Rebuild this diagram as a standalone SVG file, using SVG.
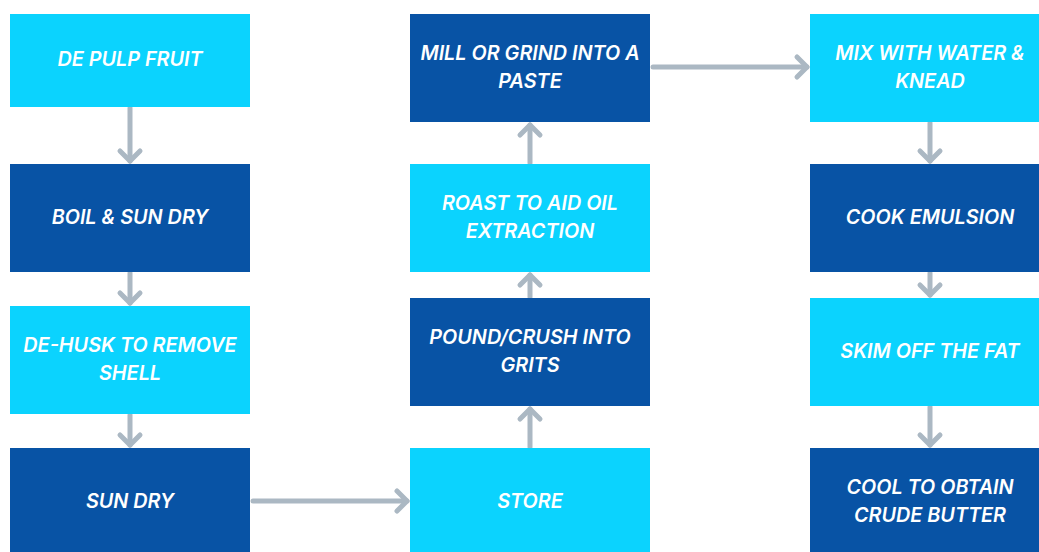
<svg xmlns="http://www.w3.org/2000/svg" width="1039" height="552" viewBox="0 0 1039 552">
<style>
.light{fill:#0bd3fe}
.dark{fill:#0853a5}
.t{fill:#ffffff;font-family:Inter,"Open Sans","Liberation Sans",sans-serif;font-style:italic;font-weight:600;font-size:19.8px;text-anchor:middle}
.c{stroke:#abb8c3;stroke-width:5;stroke-linecap:round;fill:none}
</style>
<defs>
<marker id="ah" markerUnits="userSpaceOnUse" markerWidth="30" markerHeight="30" viewBox="-15 -15 30 30" refX="0" refY="0" orient="auto">
<path d="M-10,-10 L0,0 L-10,10" stroke="#abb8c3" stroke-width="5" stroke-linecap="round" stroke-linejoin="round" fill="none"/>
</marker>
</defs>
<rect width="1039" height="552" fill="#ffffff"/>
<g id="connectors">
<line class="c" x1="130" y1="108" x2="130" y2="161" marker-end="url(#ah)"/>
<line class="c" x1="130" y1="273" x2="130" y2="303" marker-end="url(#ah)"/>
<line class="c" x1="130" y1="415" x2="130" y2="445" marker-end="url(#ah)"/>
<line class="c" x1="253" y1="501" x2="407" y2="501" marker-end="url(#ah)"/>
<line class="c" x1="530" y1="447" x2="530" y2="409" marker-end="url(#ah)"/>
<line class="c" x1="530" y1="297" x2="530" y2="275" marker-end="url(#ah)"/>
<line class="c" x1="530" y1="163" x2="530" y2="125" marker-end="url(#ah)"/>
<line class="c" x1="653" y1="67" x2="807" y2="67" marker-end="url(#ah)"/>
<line class="c" x1="930" y1="123" x2="930" y2="161" marker-end="url(#ah)"/>
<line class="c" x1="930" y1="273" x2="930" y2="295" marker-end="url(#ah)"/>
<line class="c" x1="930" y1="407" x2="930" y2="445" marker-end="url(#ah)"/>
</g>
<g id="n1"><rect class="light" x="10" y="14" width="240" height="93"/><text class="t" x="130" y="66">DE PULP FRUIT</text></g>
<g id="n2"><rect class="dark" x="10" y="164" width="240" height="108"/><text class="t" x="130" y="224">BOIL &amp; SUN DRY</text></g>
<g id="n3"><rect class="light" x="10" y="306" width="240" height="108"/><text class="t" x="130" y="352">DE-HUSK TO REMOVE</text><text class="t" x="130" y="380">SHELL</text></g>
<g id="n4"><rect class="dark" x="10" y="448" width="240" height="107"/><text class="t" x="130" y="508">SUN DRY</text></g>
<g id="n5"><rect class="light" x="410" y="448" width="240" height="107"/><text class="t" x="530" y="508">STORE</text></g>
<g id="n6"><rect class="dark" x="410" y="298" width="240" height="108"/><text class="t" x="530" y="344">POUND/CRUSH INTO</text><text class="t" x="530" y="372">GRITS</text></g>
<g id="n7"><rect class="light" x="410" y="164" width="240" height="108"/><text class="t" x="530" y="210">ROAST TO AID OIL</text><text class="t" x="530" y="238">EXTRACTION</text></g>
<g id="n8"><rect class="dark" x="410" y="14" width="240" height="108"/><text class="t" x="530" y="60">MILL OR GRIND INTO A</text><text class="t" x="530" y="88">PASTE</text></g>
<g id="n9"><rect class="light" x="810" y="14" width="240" height="108"/><text class="t" x="930" y="60">MIX WITH WATER &amp;</text><text class="t" x="930" y="88">KNEAD</text></g>
<g id="n10"><rect class="dark" x="810" y="164" width="240" height="108"/><text class="t" x="930" y="224">COOK EMULSION</text></g>
<g id="n11"><rect class="light" x="810" y="298" width="240" height="108"/><text class="t" x="930" y="358">SKIM OFF THE FAT</text></g>
<g id="n12"><rect class="dark" x="810" y="448" width="240" height="107"/><text class="t" x="930" y="494">COOL TO OBTAIN</text><text class="t" x="930" y="522">CRUDE BUTTER</text></g>
</svg>
